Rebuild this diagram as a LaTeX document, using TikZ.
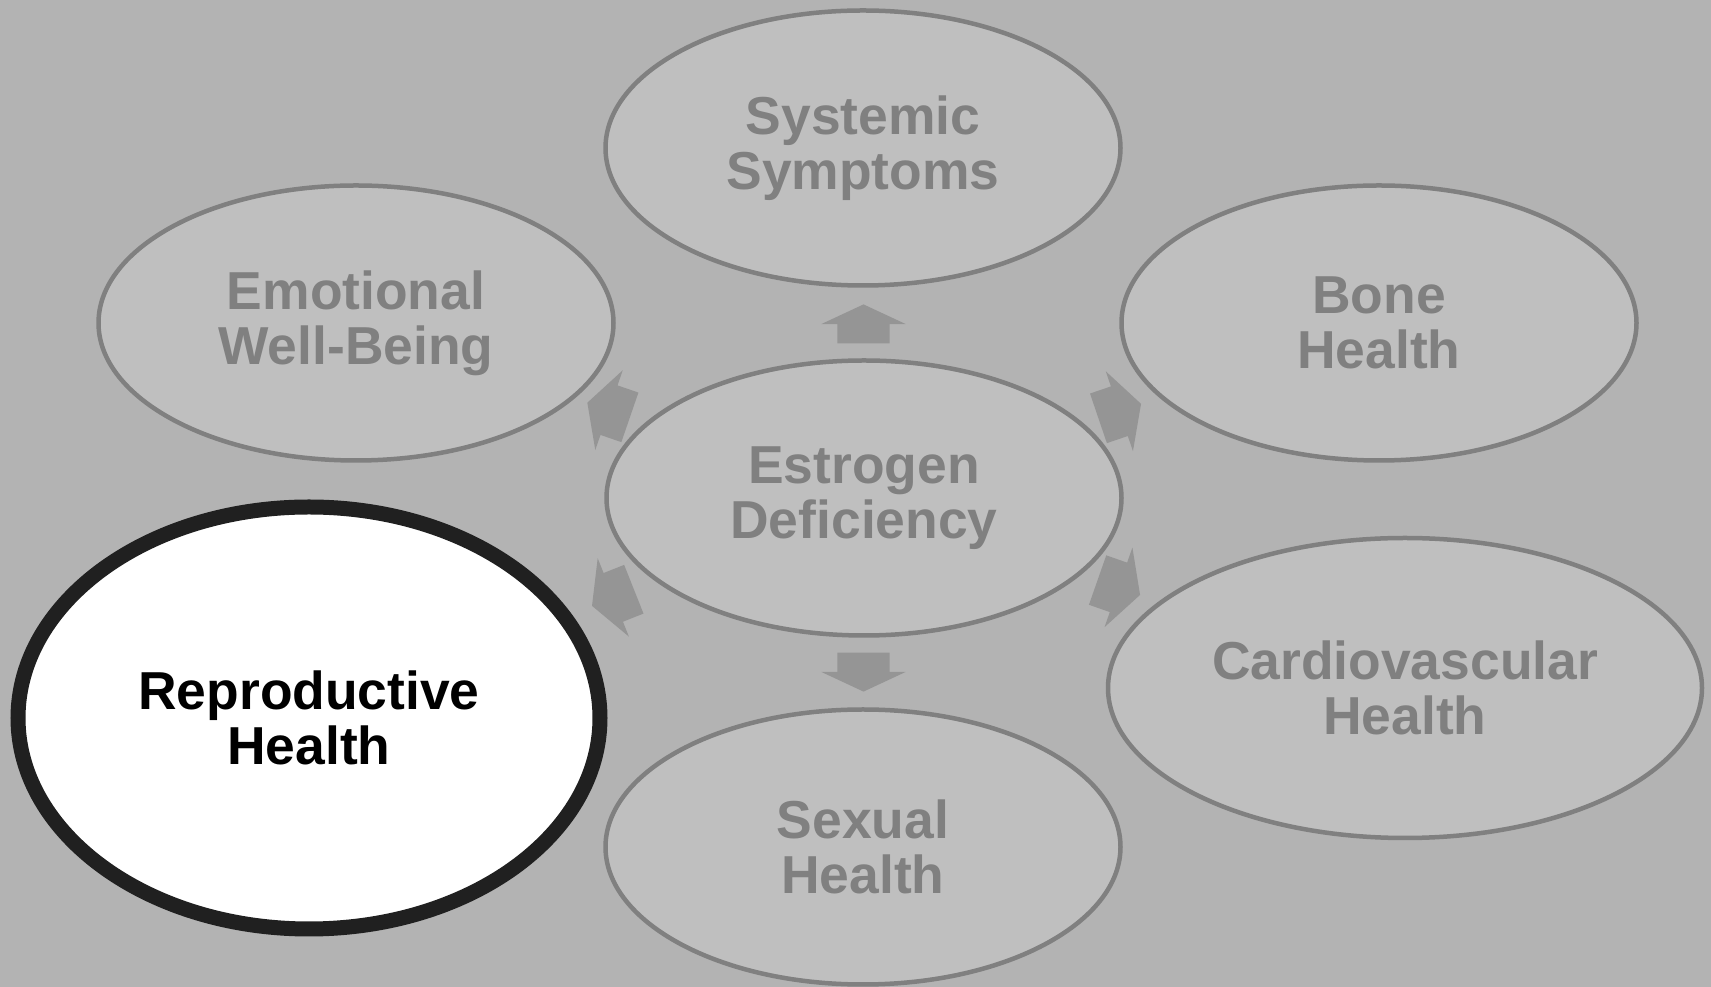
\documentclass[tikz,border=0pt]{standalone}
\usepackage{fontspec}
\setmainfont{Liberation Sans}
\usetikzlibrary{shapes.geometric, shapes.arrows, calc}

\definecolor{backGray}{RGB}{179,179,179}
\definecolor{bubbleFill}{RGB}{191,191,191}
\definecolor{bubbleLine}{RGB}{128,128,128}
\definecolor{arrowFill}{RGB}{149,149,149}
\definecolor{focusLine}{RGB}{32,32,32}

\tikzstyle{bubble}        = [ellipse, draw=bubbleLine, line width=0.045cm, fill=bubbleFill, text=bubbleLine, inner sep=0pt, align=center, minimum width=5.15cm, minimum height=2.75cm]
\tikzstyle{bubblefocus}   = [ellipse, draw=focusLine, line width=0.15cm, fill=white, text=black, inner sep=0pt, align=center]
\tikzstyle{fatarrow}      = [single arrow, fill=arrowFill, inner xsep=0pt, inner ysep=0.255cm, single arrow head extend=0.16cm, single arrow head indent=0pt, minimum height=0.45cm, single arrow tip angle=123]
\tikzstyle{fatarrowshort} = [fatarrow, minimum height=0.39cm, single arrow tip angle=130]

\begin{document}
\begin{tikzpicture}[
        every node/.style={font=\bfseries\fontsize{15.2pt}{15.7pt}\selectfont}
    ]

        % Background
        \fill[backGray] (0,0) rectangle (17.11,9.87);
        \useasboundingbox (0,0) rectangle (17.11,9.87);

        % Centre
        \node[bubble] (est) at (8.64,4.89) {Estrogen\\Deficiency};

        % Outer ring
        \node[bubble] (sys)  at (8.63,8.39)  {Systemic\\Symptoms};
        \node[bubble] (emo)  at (3.56,6.64)  {Emotional\\Well-Being};
        \node[bubble] (bone) at (13.79,6.64) {Bone\\Health};
        \node[bubble, minimum width=5.94cm, minimum height=3.0cm] (cardio)
            at (14.05,2.99) {Cardiovascular\\Health};
        \node[bubble] (sex)  at (8.63,1.40)  {Sexual\\Health};
        \node[bubblefocus, minimum width=5.82cm, minimum height=4.22cm] (repro)
            at (3.09,2.69) {Reproductive\\Health};

        % Arrows from the centre outwards
        \foreach \dest/\ang in {bone/18.8, cardio/-19.3, emo/161, repro/-158.3} {
            \node[fatarrow, rotate=\ang] (arr-\dest) at ($(est)!2.63cm!(\dest)$) {};
        }
        \node[fatarrowshort, rotate=90]  (arr-sys) at ($(est)!1.68cm!(sys)$) {};
        \node[fatarrowshort, rotate=-90] (arr-sex) at ($(est)!1.68cm!(sex)$) {};

    \end{tikzpicture}
\end{document}
